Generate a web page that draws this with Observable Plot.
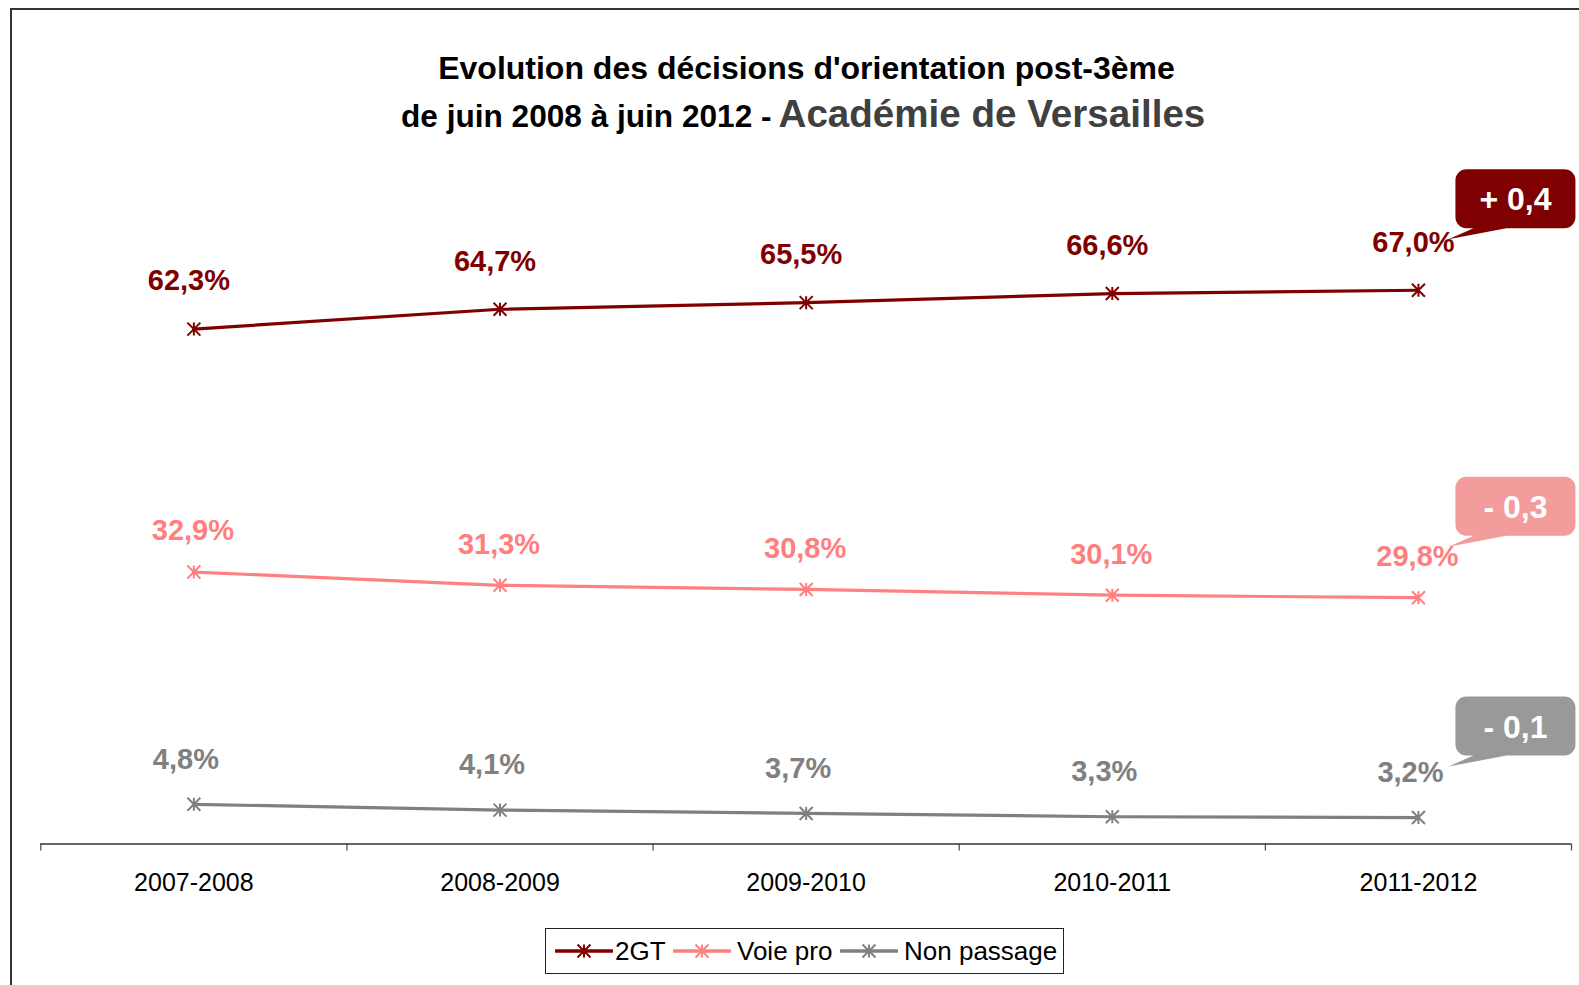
<!DOCTYPE html>
<html>
<head>
<meta charset="utf-8">
<script src="https://cdn.jsdelivr.net/npm/d3@7"></script>
<script src="https://cdn.jsdelivr.net/npm/@observablehq/plot@0.6"></script>
<style>
  html, body { margin: 0; padding: 0; background: #fff; }
  body { width: 1579px; height: 985px; position: relative; overflow: hidden; font-family: "Liberation Sans", Arial, sans-serif; }
  #frame { position: absolute; left: 10px; top: 8px; width: 1620px; height: 1020px; border-left: 2px solid #333; border-top: 2px solid #333; }
  #chart { position: absolute; left: 0; top: 0; }
  #title { position: absolute; left: 0; top: 0; }
  #legend { position: absolute; left: 545px; top: 928px; width: 517px; height: 44px; border: 1px solid #222; background: #fff; }
  #legend .sw { position: absolute; top: 12px; }
  #legend .lt { position: absolute; top: 0; font-size: 26px; line-height: 44px; color: #000; white-space: nowrap; }
</style>
</head>
<body>
<div id="frame"></div>
<div id="chart"></div>
<svg id="title" width="1579" height="150" font-family="Liberation Sans, Arial, sans-serif" font-weight="bold">
  <text x="806.5" y="79" text-anchor="middle" font-size="32" fill="#000">Evolution des décisions d'orientation post-3ème</text>
  <text x="401" y="127" text-anchor="start"><tspan font-size="31.6" fill="#000">de juin 2008 à juin 2012 -</tspan><tspan font-size="38.6" fill="#404040" dx="7">Académie de Versailles</tspan></text>
</svg>
<div id="legend"></div>
<script>
// ---- data ----
const categories = ["2007-2008", "2008-2009", "2009-2010", "2010-2011", "2011-2012"];
const seriesNames = ["2GT", "Voie pro", "Non passage"];
const values2GT = [62.3, 64.7, 65.5, 66.6, 67.0];
const valuesVoiePro = [32.9, 31.3, 30.8, 30.1, 29.8];
const valuesNonPassage = [4.8, 4.1, 3.7, 3.3, 3.2];

// ---- styles ----
const lineColors = ["#800000", "#FF8080", "#808080"];
const labelColors = ["#800000", "#FF7F7F", "#808080"];
const boxColors = ["#7F0000", "#F29C9C", "#999999"];
const labelOffsets = [{dx: -5, dy: -48}, {dx: -1, dy: -41}, {dx: -8, dy: -45}];

const allValues = [values2GT, valuesVoiePro, valuesNonPassage];
const rowsBySeries = allValues.map((vals, s) => vals.map((v, i) => ({series: seriesNames[s], cat: categories[i], i, value: v})));

const fmt = v => v.toFixed(1).replace(".", ",") + "%";
const fmtDelta = d => (d >= 0 ? "+ " : "- ") + Math.abs(d).toFixed(1).replace(".", ",");

const starSymbol = {
  draw(ctx, size) {
    const s = Math.sqrt(size / Math.PI);
    ctx.moveTo(0, -s); ctx.lineTo(0, s);
    ctx.moveTo(-s, -s); ctx.lineTo(s, s);
    ctx.moveTo(-s, s); ctx.lineTo(s, -s);
  }
};

// callout shape relative to the last point
const calloutSymbol = {
  draw(ctx) {
    const x0 = 37, x1 = 157, y0 = -121, y1 = -62, r = 11;
    ctx.moveTo(x0 + r, y0);
    ctx.lineTo(x1 - r, y0);
    ctx.arcTo(x1, y0, x1, y0 + r, r);
    ctx.lineTo(x1, y1 - r);
    ctx.arcTo(x1, y1, x1 - r, y1, r);
    ctx.lineTo(88, y1);
    ctx.lineTo(30, -51);
    ctx.lineTo(55, y1);
    ctx.lineTo(x0 + r, y1);
    ctx.arcTo(x0, y1, x0, y1 - r, r);
    ctx.lineTo(x0, y0 + r);
    ctx.arcTo(x0, y0, x0 + r, y0, r);
    ctx.closePath();
  }
};

const marks = [];
// axis
marks.push(Plot.ruleY([0], {stroke: "#333", strokeWidth: 1.5}));
marks.push(Plot.axisX({ticks: d3.range(categories.length + 1).map(k => k - 0.5), tickFormat: () => "", tickSize: 7, stroke: "#444", strokeWidth: 1.2, label: null}));
marks.push(Plot.axisX({ticks: d3.range(categories.length), tickFormat: k => categories[k], tickSize: 0, tickPadding: 29, fontSize: 25, fill: "#000", label: null}));

rowsBySeries.forEach((rows, s) => {
  marks.push(Plot.line(rows, {x: "i", y: "value", stroke: lineColors[s], strokeWidth: 3.2}));
  marks.push(Plot.dot(rows, {x: "i", y: "value", symbol: starSymbol, r: 6.5, stroke: lineColors[s], strokeWidth: 2, fill: "none"}));
  marks.push(Plot.text(rows, {x: "i", y: "value", text: d => fmt(d.value), dx: labelOffsets[s].dx, dy: labelOffsets[s].dy, fill: labelColors[s], fontWeight: "bold", fontSize: 29}));
  const n = rows.length;
  const last = [{...rows[n - 1], delta: rows[n - 1].value - rows[n - 2].value}];
  marks.push(Plot.dot(last, {x: "i", y: "value", symbol: calloutSymbol, r: 5, fill: boxColors[s], stroke: "none"}));
  marks.push(Plot.text(last, {x: "i", y: "value", text: d => fmtDelta(d.delta), dx: 97, dy: -90, fill: "#fff", fontWeight: "bold", fontSize: 32}));
});

const chart = Plot.plot({
  width: 1579,
  height: 985,
  marginLeft: 40.3,
  marginRight: 8,
  marginTop: 17,
  marginBottom: 141.5,
  x: {type: "linear", domain: [-0.5, categories.length - 0.5], axis: null},
  y: {type: "linear", domain: [0, 100], axis: null},
  style: {fontFamily: "Liberation Sans, Arial, sans-serif", background: "transparent", overflow: "visible"},
  marks
});
document.getElementById("chart").appendChild(chart);

// ---- legend ----
const legend = document.getElementById("legend");
const swLeft = [9, 127, 294];
const txtLeft = [69, 191, 358];
seriesNames.forEach((name, s) => {
  const ns = "http://www.w3.org/2000/svg";
  const svg = document.createElementNS(ns, "svg");
  svg.setAttribute("width", 58); svg.setAttribute("height", 20);
  svg.setAttribute("class", "sw");
  svg.style.left = swLeft[s] + "px";
  const ln = document.createElementNS(ns, "line");
  ln.setAttribute("x1", 1); ln.setAttribute("x2", 57); ln.setAttribute("y1", 10); ln.setAttribute("y2", 10);
  ln.setAttribute("stroke", lineColors[s]); ln.setAttribute("stroke-width", 3.5); ln.setAttribute("stroke-linecap", "round");
  svg.appendChild(ln);
  const p = document.createElementNS(ns, "path");
  p.setAttribute("d", d3.symbol(starSymbol, Math.PI * 6.5 * 6.5)());
  p.setAttribute("transform", "translate(29,10)");
  p.setAttribute("stroke", lineColors[s]); p.setAttribute("stroke-width", 2); p.setAttribute("fill", "none");
  svg.appendChild(p);
  legend.appendChild(svg);
  const t = document.createElement("div");
  t.className = "lt";
  t.style.left = txtLeft[s] + "px";
  t.textContent = name;
  legend.appendChild(t);
});
</script>
</body>
</html>
